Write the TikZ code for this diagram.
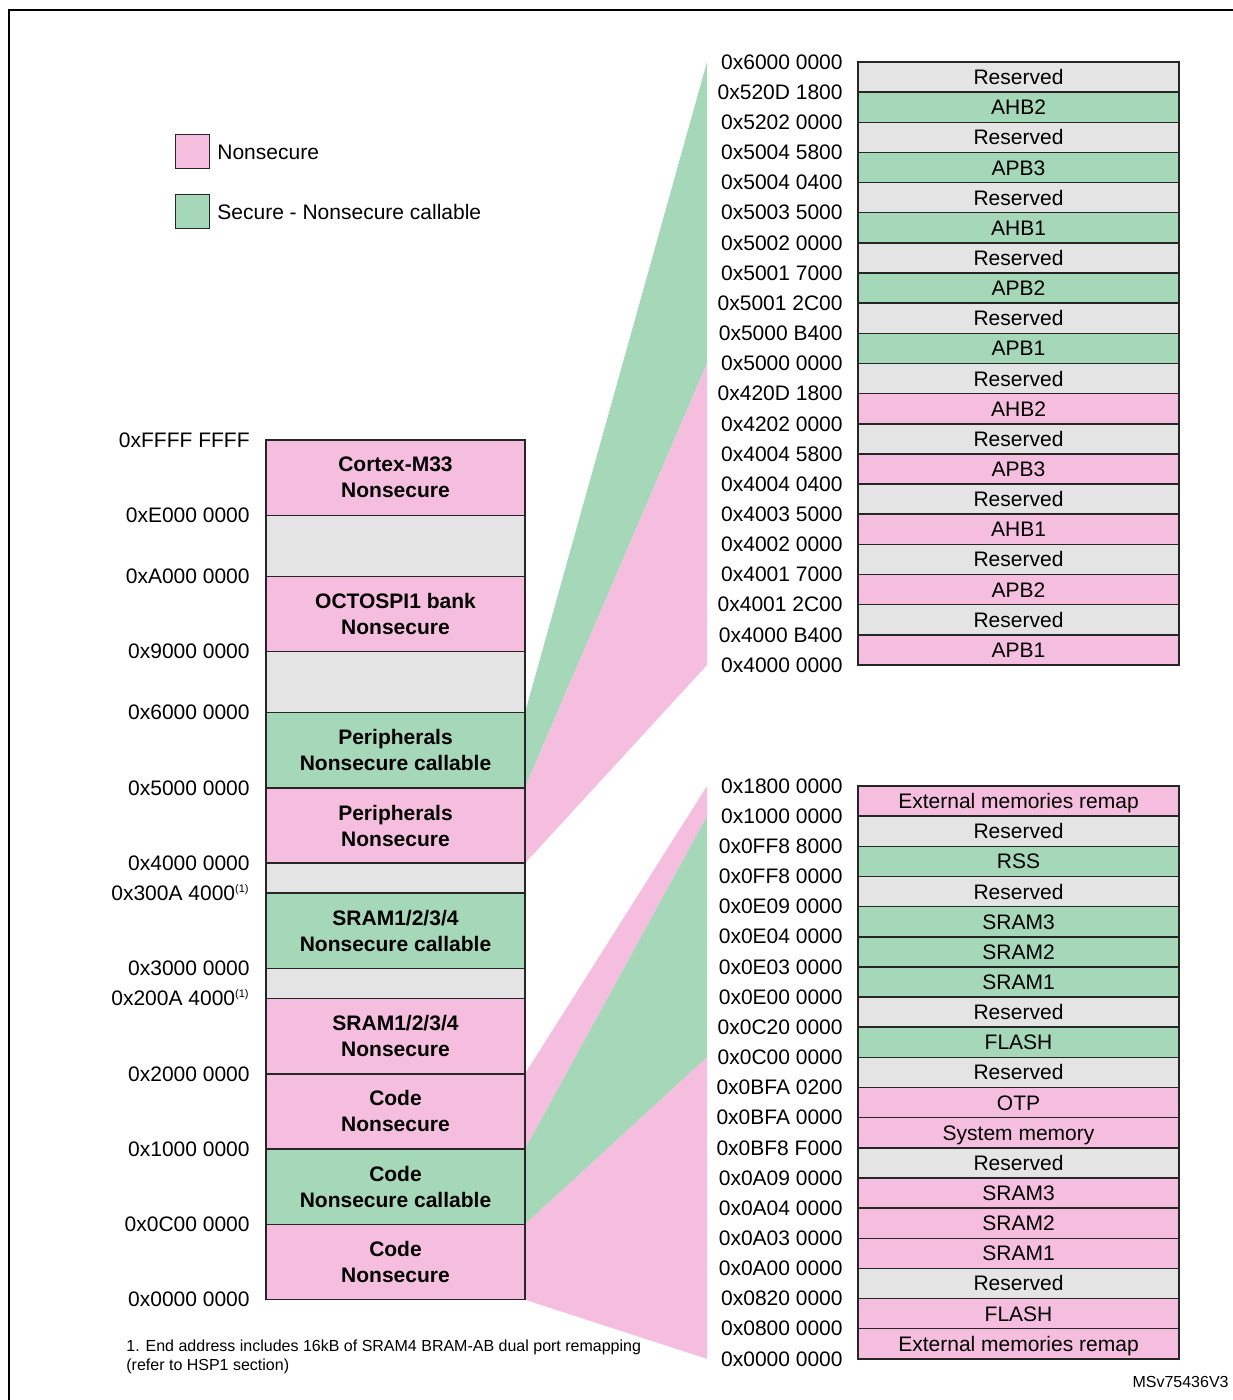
\documentclass[tikz,border=0pt]{standalone}
\usepackage{fontspec}
\setmainfont{Liberation Sans}
\usetikzlibrary{positioning}
\pgfdeclarelayer{background}
\pgfsetlayers{background,main}

\definecolor{nspink}{RGB}{246,190,222}
\definecolor{nscgreen}{RGB}{164,216,184}
\definecolor{rsvgray}{RGB}{228,228,228}

\tikzset{
  blk/.style={draw=black!85, line width=0.75pt, minimum width=129.5pt, inner sep=0pt, outer sep=0pt,
    align=center, font=\fontsize{10.5}{13}\selectfont\bfseries},
  bigblk/.style={blk, minimum height=37.65pt},
  midblk/.style={blk, fill=rsvgray, minimum height=30.5pt},
  smallblk/.style={blk, fill=rsvgray, minimum height=15pt},
  row/.style={draw=black!85, line width=0.75pt, anchor=north west, minimum width=160.5pt,
    minimum height=15.075pt, inner sep=0pt, outer sep=0pt, text height=7.5pt, text depth=0pt,
    font=\fontsize{10.5}{12.6}\selectfont},
  addr/.style={inner sep=0pt, font=\fontsize{10.5}{12.6}\selectfont},
  legbox/.style={draw=black!85, line width=0.5pt, minimum size=17pt, inner sep=0pt, outer sep=0pt},
  legtxt/.style={inner sep=0pt, font=\fontsize{10.5}{12.6}\selectfont},
  note/.style={inner sep=0pt, align=left, font=\fontsize{8}{9.5}\selectfont}
}
\newcommand{\fnmark}{\smash{\textsuperscript{\fontsize{5.5}{6}\selectfont(1)}}}

\begin{document}
\begin{tikzpicture}[x=0.5pt, y=-0.5pt]
  \useasboundingbox (0,0) rectangle (1232,1400);

  % Frame
  \draw[line width=1pt] (9,1420) -- (9,10) -- (1250,10);

  % Legend
  \node[legbox, fill=nspink, anchor=north west] (legns) at (175,135) {};
  \node[legtxt, right=4pt of legns] (legnst) {Nonsecure};
  \node[legbox, fill=nscgreen, anchor=north west] (legnsc) at (175,195) {};
  \node[legtxt, right=4pt of legnsc] (legnsct) {Secure - Nonsecure callable};

  % Main memory map
  \node[bigblk, fill=nspink, anchor=north west] (cm33) at (266,440) {Cortex-M33\\Nonsecure};
  \node[midblk, below=0pt of cm33] (gapA) {};
  \node[bigblk, fill=nspink, below=0pt of gapA] (octo) {OCTOSPI1 bank\\Nonsecure};
  \node[midblk, below=0pt of octo] (gapB) {};
  \node[bigblk, fill=nscgreen, below=0pt of gapB] (perS) {Peripherals\\Nonsecure callable};
  \node[bigblk, fill=nspink, below=0pt of perS] (perN) {Peripherals\\Nonsecure};
  \node[smallblk, below=0pt of perN] (gapC) {};
  \node[bigblk, fill=nscgreen, below=0pt of gapC] (sramS) {SRAM1/2/3/4\\Nonsecure callable};
  \node[smallblk, below=0pt of sramS] (gapD) {};
  \node[bigblk, fill=nspink, below=0pt of gapD] (sramN) {SRAM1/2/3/4\\Nonsecure};
  \node[bigblk, fill=nspink, below=0pt of sramN] (codeN) {Code\\Nonsecure};
  \node[bigblk, fill=nscgreen, below=0pt of codeN] (codeS) {Code\\Nonsecure callable};
  \node[bigblk, fill=nspink, below=0pt of codeS] (code0) {Code\\Nonsecure};

  % Main map addresses
  \node[addr, left=8pt of cm33.north west] (aFFFF) {0xFFFF FFFF};
  \node[addr, left=8pt of gapA.north west] (aE000) {0xE000 0000};
  \node[addr, left=8pt of octo.north west] (aA000) {0xA000 0000};
  \node[addr, left=8pt of gapB.north west] (a9000) {0x9000 0000};
  \node[addr, left=8pt of perS.north west] (a6000) {0x6000 0000};
  \node[addr, left=8pt of perN.north west] (a5000) {0x5000 0000};
  \node[addr, left=8pt of gapC.north west] (a4000) {0x4000 0000};
  \node[addr, left=8pt of sramS.north west] (a300A) {0x300A 4000\fnmark};
  \node[addr, left=8pt of gapD.north west] (a3000) {0x3000 0000};
  \node[addr, left=8pt of sramN.north west] (a200A) {0x200A 4000\fnmark};
  \node[addr, left=8pt of codeN.north west] (a2000) {0x2000 0000};
  \node[addr, left=8pt of codeS.north west] (a1000) {0x1000 0000};
  \node[addr, left=8pt of code0.north west] (a0C00) {0x0C00 0000};
  \node[addr, left=8pt of code0.south west] (a0000) {0x0000 0000};

  % Peripherals detail
  \foreach \c/\t [count=\i] in {rsvgray/Reserved, nscgreen/AHB2, rsvgray/Reserved, nscgreen/APB3,
      rsvgray/Reserved, nscgreen/AHB1, rsvgray/Reserved, nscgreen/APB2, rsvgray/Reserved, nscgreen/APB1,
      rsvgray/Reserved, nspink/AHB2, rsvgray/Reserved, nspink/APB3, rsvgray/Reserved, nspink/AHB1,
      rsvgray/Reserved, nspink/APB2, rsvgray/Reserved, nspink/APB1}
    \node[row, fill=\c] (p\i) at (858,{62+(\i-1)*30.15}) {\t};
  \foreach \a [count=\i from 0] in {0x6000 0000, 0x520D 1800, 0x5202 0000, 0x5004 5800, 0x5004 0400,
      0x5003 5000, 0x5002 0000, 0x5001 7000, 0x5001 2C00, 0x5000 B400, 0x5000 0000, 0x420D 1800,
      0x4202 0000, 0x4004 5800, 0x4004 0400, 0x4003 5000, 0x4002 0000, 0x4001 7000, 0x4001 2C00,
      0x4000 B400, 0x4000 0000}
    \node[addr, anchor=east] (pa\i) at (843,{62+\i*30.15}) {\a};

  % Code detail
  \foreach \c/\t [count=\i] in {nspink/External memories remap, rsvgray/Reserved, nscgreen/RSS,
      rsvgray/Reserved, nscgreen/SRAM3, nscgreen/SRAM2, nscgreen/SRAM1, rsvgray/Reserved, nscgreen/FLASH,
      rsvgray/Reserved, nspink/OTP, nspink/System memory, rsvgray/Reserved, nspink/SRAM3, nspink/SRAM2,
      nspink/SRAM1, rsvgray/Reserved, nspink/FLASH, nspink/External memories remap}
    \node[row, fill=\c] (c\i) at (858,{786+(\i-1)*30.15}) {\t};
  \foreach \a [count=\i from 0] in {0x1800 0000, 0x1000 0000, 0x0FF8 8000, 0x0FF8 0000, 0x0E09 0000,
      0x0E04 0000, 0x0E03 0000, 0x0E00 0000, 0x0C20 0000, 0x0C00 0000, 0x0BFA 0200, 0x0BFA 0000,
      0x0BF8 F000, 0x0A09 0000, 0x0A04 0000, 0x0A03 0000, 0x0A00 0000, 0x0820 0000, 0x0800 0000,
      0x0000 0000}
    \node[addr, anchor=east] (ca\i) at (843,{786+\i*30.15}) {\a};

  % Zoom fans
  \coordinate (fan) at (707,0);
  \begin{pgfonlayer}{background}
    \fill[nscgreen] (perS.north east) -- (fan |- p1.north) -- (fan |- p10.south) -- (perS.south east) -- cycle;
    \fill[nspink] (perN.north east) -- (fan |- p11.north) -- (fan |- p20.south) -- (perN.south east) -- cycle;
    \fill[nspink] (codeN.north east) -- (fan |- c1.north) -- (fan |- c1.south) -- (codeN.south east) -- cycle;
    \fill[nscgreen] (codeS.north east) -- (fan |- c2.north) -- (fan |- c9.south) -- (codeS.south east) -- cycle;
    \fill[nspink] (code0.north east) -- (fan |- c10.north) -- (fan |- c19.south) -- (code0.south east) -- cycle;
  \end{pgfonlayer}

  % Notes
  \node[note, anchor=north west] (fnote) at (126,1339)
    {1. End address includes 16kB of SRAM4 BRAM-AB dual port remapping\\(refer to HSP1 section)};
  \node[note, anchor=east] (figid) at (1229,1382) {MSv75436V3};
\end{tikzpicture}
\end{document}
